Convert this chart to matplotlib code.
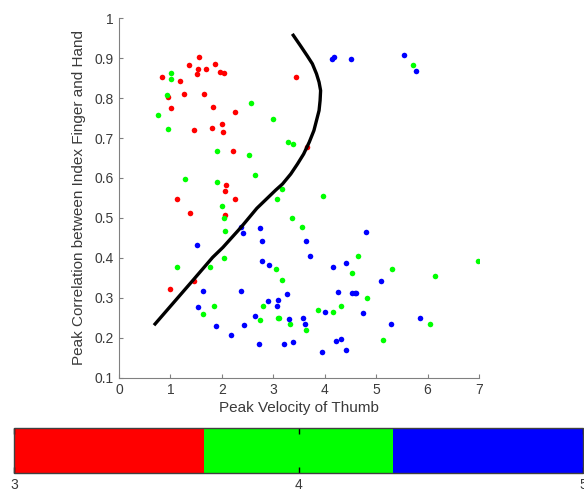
import matplotlib
matplotlib.use("Agg")
import matplotlib.pyplot as plt
from matplotlib.colors import ListedColormap, Normalize
from matplotlib.cm import ScalarMappable

plt.rcParams['font.family'] = ['Liberation Sans', 'DejaVu Sans']

# --- data ---
red_x = [0.83, 1.56, 1.36, 1.86, 1.54, 1.70, 1.52, 1.97, 2.04, 1.18, 1.26, 1.65, 0.96, 1.01,
         1.82, 2.26, 1.46, 1.80, 2.00, 2.02, 2.22, 3.44, 3.66, 2.08, 2.06, 1.12, 2.26, 1.38,
         2.06, 1.45, 1.00]
red_y = [0.852, 0.903, 0.883, 0.885, 0.873, 0.873, 0.860, 0.865, 0.863, 0.842, 0.810, 0.810,
         0.804, 0.776, 0.779, 0.766, 0.720, 0.724, 0.734, 0.714, 0.667, 0.854, 0.678, 0.582,
         0.568, 0.548, 0.548, 0.511, 0.508, 0.343, 0.322]

green_x = [1.01, 1.01, 0.93, 0.76, 0.96, 2.56, 3.00, 3.28, 3.39, 1.91, 2.52, 2.64, 1.29, 1.90,
           3.16, 3.08, 5.72, 3.96, 2.00, 2.04, 2.06, 2.04, 1.12, 1.76, 1.84, 1.64, 3.36, 3.56,
           3.06, 3.16, 2.80, 2.74, 3.10, 3.12, 3.32, 3.64, 4.64, 4.53, 5.30, 6.14, 6.98, 4.82,
           4.32, 3.86, 4.16, 6.04, 5.14]
green_y = [0.864, 0.847, 0.808, 0.758, 0.723, 0.787, 0.748, 0.690, 0.685, 0.667, 0.657, 0.608,
           0.598, 0.589, 0.573, 0.548, 0.882, 0.555, 0.529, 0.500, 0.467, 0.399, 0.376, 0.376,
           0.280, 0.260, 0.500, 0.477, 0.371, 0.345, 0.278, 0.244, 0.250, 0.250, 0.234, 0.219,
           0.404, 0.362, 0.373, 0.355, 0.392, 0.299, 0.278, 0.268, 0.265, 0.234, 0.193]

blue_x = [4.15, 4.18, 4.52, 5.54, 5.78, 2.37, 2.41, 2.74, 2.78, 3.64, 3.71, 1.52, 2.78, 2.92,
          1.64, 2.38, 3.26, 2.90, 3.10, 3.08, 1.54, 2.64, 3.30, 3.58, 3.62, 1.88, 2.44, 2.18,
          2.72, 3.21, 3.38, 4.80, 4.16, 4.42, 5.10, 4.26, 4.53, 4.58, 4.61, 4.00, 4.74, 5.86,
          5.28, 4.22, 4.32, 4.42, 3.94]
blue_y = [0.897, 0.902, 0.898, 0.907, 0.869, 0.477, 0.462, 0.475, 0.441, 0.441, 0.404, 0.433,
          0.392, 0.382, 0.317, 0.317, 0.309, 0.291, 0.294, 0.280, 0.276, 0.255, 0.247, 0.250,
          0.234, 0.229, 0.232, 0.206, 0.185, 0.185, 0.190, 0.464, 0.378, 0.387, 0.342, 0.314,
          0.312, 0.312, 0.312, 0.265, 0.262, 0.250, 0.234, 0.191, 0.196, 0.170, 0.164]

# boundary curve
curve_x = [0.68, 1.05, 1.44, 1.82, 2.02, 2.37, 2.68, 3.05, 3.18, 3.34, 3.47, 3.59, 3.70,
           3.79, 3.84, 3.89, 3.91, 3.92, 3.89, 3.84, 3.76, 3.66, 3.53, 3.37]
curve_y = [0.231, 0.286, 0.344, 0.401, 0.426, 0.476, 0.524, 0.570, 0.585, 0.610, 0.635,
           0.660, 0.690, 0.719, 0.744, 0.769, 0.794, 0.819, 0.840, 0.861, 0.886, 0.906,
           0.931, 0.961]

x_ticks = [0, 1, 2, 3, 4, 5, 6, 7]
y_ticks = [0.1, 0.2, 0.3, 0.4, 0.5, 0.6, 0.7, 0.8, 0.9, 1]
y_tick_labels = ['0.1', '0.2', '0.3', '0.4', '0.5', '0.6', '0.7', '0.8', '0.9', '1']

cbar_colors = ['#ff0000', '#00ff00', '#0000ff']
cbar_ticks = [3, 4, 5]

axis_grey = '#808080'
text_grey = '#3a3a3a'

fig = plt.figure(figsize=(5.84, 4.94), dpi=100)
ax = fig.add_axes([0.2038, 0.2358, 0.6164, 0.7271])

ax.scatter(red_x, red_y, s=16, color='#ff0000', linewidths=0, zorder=2)
ax.scatter(green_x, green_y, s=16, color='#00ff00', linewidths=0, zorder=2)
ax.scatter(blue_x, blue_y, s=16, color='#0000ff', linewidths=0, zorder=2)
ax.plot(curve_x, curve_y, color='black', linewidth=2.4, zorder=3,
        solid_joinstyle='round', solid_capstyle='butt')

ax.set_xlim(0, 7)
ax.set_ylim(0.1, 1)
ax.set_xticks(x_ticks)
ax.set_yticks(y_ticks)
ax.set_yticklabels(y_tick_labels)
for side in ['top', 'right']:
    ax.spines[side].set_visible(False)
for side in ['left', 'bottom']:
    ax.spines[side].set_color(axis_grey)
ax.tick_params(direction='in', length=3, color=axis_grey, labelcolor=text_grey,
               labelsize=10, pad=4)
ax.set_xlabel('Peak Velocity of Thumb', fontsize=11, color=text_grey, labelpad=3)
ax.set_ylabel('Peak Correlation between Index Finger and Hand', fontsize=11,
              color=text_grey, labelpad=6)

# colour bar underneath
cax = fig.add_axes([0.024, 0.0431, 0.9743, 0.0899])
sm = ScalarMappable(norm=Normalize(3, 5), cmap=ListedColormap(cbar_colors))
cb = fig.colorbar(sm, cax=cax, orientation='horizontal', ticks=cbar_ticks)
cb.outline.set_edgecolor('#404040')
cb.outline.set_linewidth(1.0)
cax.tick_params(direction='in', length=4, width=1, color='black', top=True,
                labelcolor=text_grey, labelsize=10, pad=4)

fig.savefig('out.png', dpi=100)
